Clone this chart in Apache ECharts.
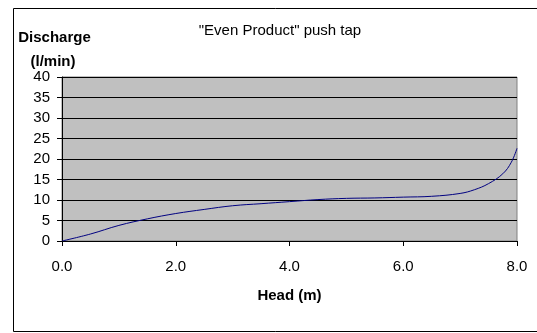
<!DOCTYPE html>
<html>
<head>
<meta charset="utf-8">
<script src="https://cdn.jsdelivr.net/npm/echarts@6/dist/echarts.min.js"></script>
<style>
html,body{margin:0;padding:0;background:#fff;}
#c{width:537px;height:333px;}
</style>
</head>
<body>
<div id="c"></div>
<script>
var titleText = '"Even Product" push tap';
var xAxisTitle = 'Head (m)';
var yAxisTitle1 = 'Discharge';
var yAxisTitle2 = '(l/min)';
var heads = [0, 0.5, 1.0, 1.5, 2.0, 2.5, 3.0, 3.5, 4.0, 4.5, 5.0, 5.5, 6.0, 6.5, 7.0, 7.25, 7.5, 7.75, 7.9, 8.0];
var discharge = [0, 1.7, 3.8, 5.4, 6.7, 7.7, 8.6, 9.1, 9.6, 10.1, 10.4, 10.5, 10.7, 10.9, 11.6, 12.5, 14.0, 16.4, 19.2, 22.6];

var FONT = '"Liberation Sans", Arial, sans-serif';
var chart = echarts.init(document.getElementById('c'), null, {renderer: 'canvas'});
var pts = heads.map(function (h, i) { return [h, discharge[i]]; });

chart.setOption({
  animation: false,
  backgroundColor: '#fff',
  grid: {
    left: 62, top: 77, width: 455, height: 164,
    show: true, backgroundColor: '#c0c0c0', borderColor: '#808080', borderWidth: 1
  },
  xAxis: {
    type: 'value', min: 0, max: 8, interval: 2,
    name: xAxisTitle, nameLocation: 'middle', nameGap: 47,
    nameTextStyle: {fontFamily: FONT, fontSize: 15, fontWeight: 'bold', color: '#000'},
    axisLine: {show: true, onZero: false, lineStyle: {color: '#000', width: 1}},
    axisTick: {show: true, inside: false, length: 5, lineStyle: {color: '#000'}},
    axisLabel: {margin: 18, fontFamily: FONT, fontSize: 15, color: '#000',
      formatter: function (v) { return v.toFixed(1); }},
    splitLine: {show: false}
  },
  yAxis: {
    type: 'value', min: 0, max: 40, interval: 5,
    axisLine: {show: true, onZero: false, lineStyle: {color: '#000', width: 1}},
    axisTick: {show: true, inside: false, length: 5, lineStyle: {color: '#000'}},
    axisLabel: {margin: 12, fontFamily: FONT, fontSize: 15, color: '#000'},
    splitLine: {show: true, lineStyle: {color: '#000', width: 1}}
  },
  series: [{
    type: 'line', data: pts, smooth: 0.4, showSymbol: false,
    lineStyle: {color: '#000080', width: 1}
  }],
  graphic: [
    {type: 'rect', shape: {x: 13.5, y: 8.5, width: 540, height: 323}, silent: true,
      style: {fill: null, stroke: '#000', lineWidth: 1}, z: 100},
    {type: 'text', x: 280, y: 31, style: {text: titleText, font: '15px ' + FONT, fill: '#000',
      textAlign: 'center', textVerticalAlign: 'middle'}},
    {type: 'text', x: 54.5, y: 38, style: {text: yAxisTitle1, font: 'bold 15px ' + FONT, fill: '#000',
      textAlign: 'center', textVerticalAlign: 'middle'}},
    {type: 'text', x: 53, y: 62, style: {text: yAxisTitle2, font: 'bold 15px ' + FONT, fill: '#000',
      textAlign: 'center', textVerticalAlign: 'middle'}}
  ]
});
</script>
</body>
</html>
